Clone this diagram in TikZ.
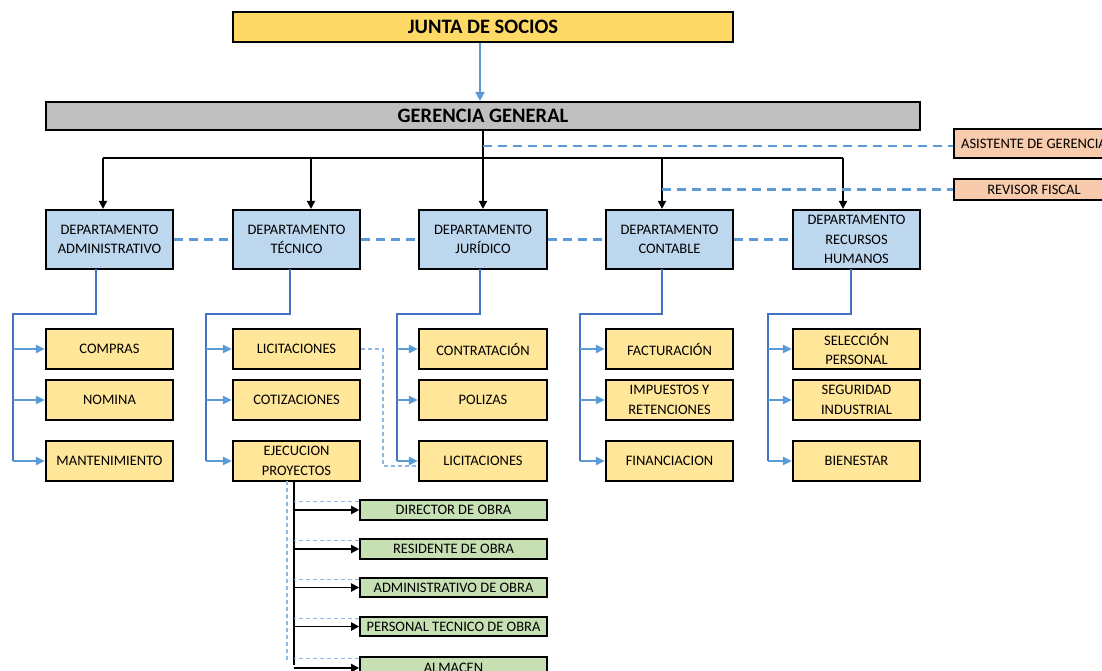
\documentclass[tikz,border=0pt]{standalone}
\usepackage{fontspec}
\setmainfont{Carlito}
\usetikzlibrary{arrows.meta}

\definecolor{juntafill}{HTML}{FFD966}
\definecolor{gerfill}{HTML}{BFBFBF}
\definecolor{deptfill}{HTML}{BDD7EE}
\definecolor{subfill}{HTML}{FFE699}
\definecolor{obrafill}{HTML}{C6E0B4}
\definecolor{peachfill}{HTML}{F8CBAD}
\definecolor{linkblue}{HTML}{5B9BD5}
\definecolor{treeblue}{HTML}{4472C4}
\definecolor{softblue}{HTML}{8FB8E4}

% box given by its corners: name, x1, y1, x2, y2, style, text
\newcommand{\orgbox}[7]{%
  \pgfmathsetmacro{\bw}{#4-#2}\pgfmathsetmacro{\bh}{#5-#3}%
  \node[#6, minimum width=\bw pt, minimum height=\bh pt] (#1) at ({(#2+#4)/2},{(#3+#5)/2}) {#7};}

\tikzset{
  boxbase/.style={draw=black, line width=2.2pt, inner sep=0pt, align=center,
    font=\fontsize{14.5}{19.5}\selectfont},
  titlebox/.style={boxbase, font=\fontsize{20.5}{22}\selectfont\bfseries},
  deptbox/.style={boxbase, fill=deptfill},
  subbox/.style={boxbase, fill=subfill},
  obrabox/.style={boxbase, line width=1.6pt, fill=obrafill},
  peachbox/.style={boxbase, fill=peachfill},
  blk/.style={draw=black, line width=1.9pt},
  blkarrow/.style={blk, -{Triangle[length=8pt,width=8pt]}},
  bluearrow/.style={draw=linkblue, line width=2.4pt, -{Triangle[length=9pt,width=9pt]}},
  tree/.style={draw=treeblue, line width=2.4pt},
  treearrow/.style={draw=linkblue, line width=2.2pt, -{Triangle[length=9pt,width=8pt]}},
  bdash/.style={draw=linkblue, line width=2.2pt, dash pattern=on 9pt off 6pt},
  tdash/.style={draw=softblue, line width=1.3pt, dash pattern=on 4pt off 3pt},
}

\begin{document}
\begin{tikzpicture}[x=1pt,y=-1pt]
\useasboundingbox (0,0) rectangle (1102,670);

% top levels
\orgbox{junta}{233}{12}{733}{42}{titlebox, fill=juntafill}{JUNTA DE SOCIOS}
\orgbox{ger}{46}{102}{920}{130}{titlebox, fill=gerfill}{GERENCIA GENERAL}
\orgbox{asi}{954}{129}{1114}{158}{peachbox}{ASISTENTE DE GERENCIA}
\orgbox{rev}{954}{179}{1114}{200}{peachbox}{REVISOR FISCAL}

% departments
\orgbox{adm}{46}{210}{173}{269}{deptbox}{DEPARTAMENTO\\ADMINISTRATIVO}
\orgbox{tec}{233}{210}{360}{269}{deptbox}{DEPARTAMENTO\\TÉCNICO}
\orgbox{jur}{419}{210}{547}{269}{deptbox}{DEPARTAMENTO\\JURÍDICO}
\orgbox{con}{606}{210}{733}{269}{deptbox}{DEPARTAMENTO\\CONTABLE}
\orgbox{rrh}{793}{210}{920}{269}{deptbox}{DEPARTAMENTO\\RECURSOS\\HUMANOS}

% sections
\orgbox{compras}{46}{329}{173}{369}{subbox}{COMPRAS}
\orgbox{nomina}{46}{380}{173}{420}{subbox}{NOMINA}
\orgbox{mant}{46}{441}{173}{481}{subbox}{MANTENIMIENTO}
\orgbox{licA}{233}{329}{360}{369}{subbox}{LICITACIONES}
\orgbox{coti}{233}{380}{360}{420}{subbox}{COTIZACIONES}
\orgbox{ejec}{233}{441}{360}{481}{subbox}{EJECUCION\\PROYECTOS}
\orgbox{contr}{419}{329}{547}{369}{subbox}{CONTRATACIÓN}
\orgbox{poli}{419}{380}{547}{420}{subbox}{POLIZAS}
\orgbox{licB}{419}{441}{547}{481}{subbox}{LICITACIONES}
\orgbox{fact}{606}{329}{733}{369}{subbox}{FACTURACIÓN}
\orgbox{impu}{606}{380}{733}{420}{subbox}{IMPUESTOS Y\\RETENCIONES}
\orgbox{fina}{606}{441}{733}{481}{subbox}{FINANCIACION}
\orgbox{sele}{793}{329}{920}{369}{subbox}{SELECCIÓN\\PERSONAL}
\orgbox{segu}{793}{380}{920}{420}{subbox}{SEGURIDAD\\INDUSTRIAL}
\orgbox{bien}{793}{441}{920}{481}{subbox}{BIENESTAR}

% project staff
\orgbox{dir}{360}{500}{547}{520}{obrabox}{DIRECTOR DE OBRA}
\orgbox{res}{360}{539}{547}{559}{obrabox}{RESIDENTE DE OBRA}
\orgbox{admo}{360}{578}{547}{597}{obrabox}{ADMINISTRATIVO DE OBRA}
\orgbox{pers}{360}{617}{547}{636}{obrabox}{PERSONAL TECNICO DE OBRA}
\orgbox{alm}{360}{657}{547}{679}{obrabox}{ALMACEN}

% board to management
\draw[bluearrow] ([xshift=-3pt]junta.south) -- ([xshift=-3pt]ger.north);

% management to departments
\coordinate (b1) at (103,158);
\coordinate (b2) at (311,158);
\coordinate (b4) at (662,158);
\coordinate (b5) at (843,158);
\draw[blk] (b1) -- (b5);
\draw[blkarrow] (ger.south) -- (jur.north);
\draw[blkarrow] (b1) -- (b1 |- adm.north);
\draw[blkarrow] (b2) -- (b2 |- tec.north);
\draw[blkarrow] (b4) -- (b4 |- con.north);
\draw[blkarrow] (b5) -- (b5 |- rrh.north);

% staff links
\draw[bdash] ([yshift=-2.5pt]ger.south |- asi.west) -- ([yshift=-2.5pt]asi.west);
\draw[bdash] (b4 |- rev.west) -- (rev.west);
\draw[bdash] (adm.east) -- (tec.west);
\draw[bdash] (tec.east) -- (jur.west);
\draw[bdash] (jur.east) -- (con.west);
\draw[bdash] (con.east) -- (rrh.west);

% department trees: trunk, elbow, spine
\foreach \d/\xv/\xl/\ra/\rb/\rc in {adm/96/13/compras/nomina/mant,
    tec/290/206/licA/coti/ejec, jur/480/397/contr/poli/licB,
    con/662/580/fact/impu/fina, rrh/851/768/sele/segu/bien}{
  \draw[tree] (\xv,269) -- (\xv,314) -- (\xl,314) -- (\xl,461);
  \draw[treearrow] (\xl,0 |- \ra.west) -- (\ra.west);
  \draw[treearrow] (\xl,0 |- \rb.west) -- (\rb.west);
  \draw[treearrow] (\xl,0 |- \rc.west) -- (\rc.west);
}

% shared tenders link
\draw[tdash] (licA.east) -- (383,0 |- licA.east) -- (383,466) -- (licB.west |- 0,466);

% project execution branch
\coordinate (ejb) at (294,481);
\draw[tdash] (287,481) -- (287,662);
\draw[blk] (ejb) -- (294,665);
\foreach \o in {dir,res,admo,pers,alm}{
  \draw[tdash] ([yshift=-2pt]\o.north west) -- ([yshift=-2pt]\o.north west -| ejb);
  \draw[blkarrow] (ejb |- \o.west) -- (\o.west);
}
\end{tikzpicture}
\end{document}
